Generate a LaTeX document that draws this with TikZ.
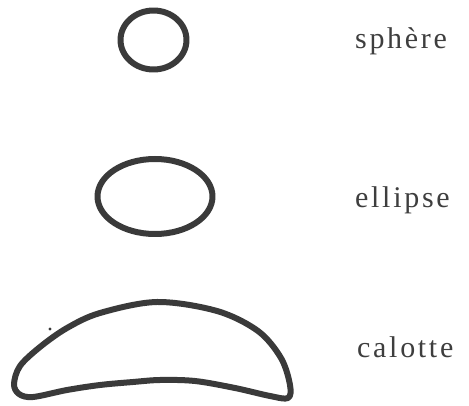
\documentclass[tikz,border=0pt]{standalone}
\usepackage{fontspec}
\setmainfont{Liberation Serif}[LetterSpace=9]
\definecolor{ink}{HTML}{3A3A3A}
\definecolor{txt}{HTML}{3E3E3E}
\begin{document}
\begin{tikzpicture}[x=1pt,y=-1pt,
  outline/.style={draw=ink,line width=6pt,line join=round},
  lbl/.style={anchor=base west,inner sep=0pt,text=txt,font=\fontsize{30}{33}\selectfont}]
\useasboundingbox (0,0) rectangle (469,406);
\draw[outline] (153.5,40) ellipse [x radius=33, y radius=29.5];
\draw[outline] (155,196.5) ellipse [x radius=57.5, y radius=37.5];
\draw[outline] plot[smooth cycle, tension=0.55] coordinates {
  (14,384) (20,366) (40,347) (67,328) (100,313) (157,302) (217,311) (258,331)
  (281,358) (290,385) (288,398) (270,396) (235,388) (195,381) (160,380)
  (133,382) (100,385) (67,390) (33,397) (19,394)};
\fill[ink] (50,329) circle (1.6);
\node[lbl] (s) at (355,49) {sphère};
\node[lbl] (e) at (355,208) {ellipse};
\node[lbl] (c) at (357,357) {calotte};
\end{tikzpicture}
\end{document}
